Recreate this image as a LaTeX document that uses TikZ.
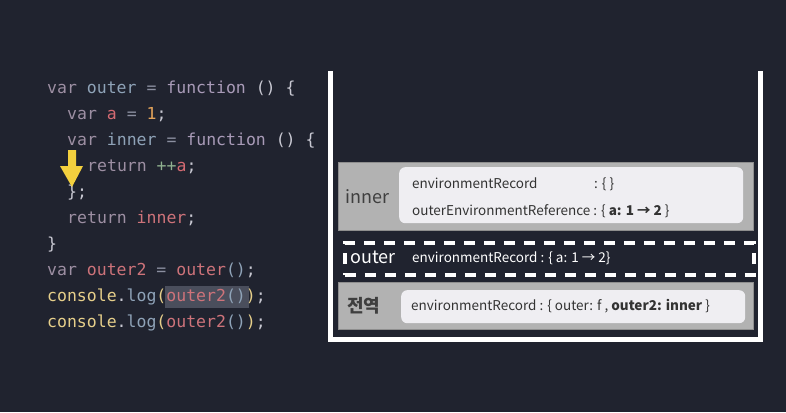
\documentclass[tikz,border=0pt]{standalone}
\usepackage{fontspec}
\setmonofont{DejaVu Sans Mono}
\newfontfamily\kr{Noto Sans CJK KR}
\definecolor{bg}{HTML}{20232F}
\definecolor{ckw}{HTML}{9D8FA3}
\definecolor{cid}{HTML}{8FA3B8}
\definecolor{cop}{HTML}{8B8FA0}
\definecolor{cfn}{HTML}{A99BB8}
\definecolor{cpn}{HTML}{C8C8D2}
\definecolor{cvar}{HTML}{D46A72}
\definecolor{cnum}{HTML}{E3A35A}
\definecolor{cinc}{HTML}{8FB08F}
\definecolor{cred}{HTML}{CE737A}
\definecolor{ccon}{HTML}{E6CF8A}
\definecolor{hl}{HTML}{4A4E5C}
\definecolor{frame}{HTML}{B2B2B2}
\definecolor{frameline}{HTML}{8E8E8E}
\definecolor{rec}{HTML}{EFEEF2}
\definecolor{txt}{HTML}{333333}
\definecolor{lbltxt}{HTML}{3F3F3F}
\definecolor{arrowy}{HTML}{F3D03E}
\tikzset{
  code/.style={anchor=base west, inner sep=0pt, font=\ttfamily\fontsize{16.5}{16.5}\selectfont, text=cpn},
  framebox/.style={fill=frame, draw=frameline, line width=1pt},
  recbox/.style={fill=rec, rounded corners=6pt},
  lbl/.style={anchor=base west, inner sep=0pt, font=\kr\fontsize{18}{18}\selectfont},
  rectxt/.style={anchor=base west, inner sep=0pt, font=\kr\fontsize{13.5}{13.5}\selectfont, text=txt},
}
\begin{document}
\begin{tikzpicture}[x=1pt,y=-1pt]
\fill[bg] (0,0) rectangle (786,412);
\useasboundingbox (0,0) rectangle (786,412);
% highlight
\fill[hl] (165,286) rectangle (249,308);
% code
\node[code] (l1) at (47,93) {\textcolor{ckw}{var} \textcolor{cid}{outer} \textcolor{cop}{=} \textcolor{cfn}{function} () \{};
\node[code] (l2) at (67,119) {\textcolor{ckw}{var} \textcolor{cvar}{a} \textcolor{cop}{=} \textcolor{cnum}{1};};
\node[code] (l3) at (67,145) {\textcolor{ckw}{var} \textcolor{cid}{inner} \textcolor{cop}{=} \textcolor{cfn}{function} () \{};
\node[code] (l4) at (87,171) {\textcolor{ckw}{return} \textcolor{cinc}{++}\textcolor{cvar}{a};};
\node[code] (l5) at (67,197) {\};};
\node[code] (l6) at (67,223) {\textcolor{ckw}{return} \textcolor{cred}{inner};};
\node[code] (l7) at (47,249) {\}};
\node[code] (l8) at (47,275) {\textcolor{ckw}{var} \textcolor{cred}{outer2} \textcolor{cop}{=} \textcolor{cred}{outer}\textcolor{cid}{()};};
\node[code] (l9) at (47,301) {\textcolor{ccon}{console}.\textcolor{cid}{log}\textcolor{ccon}{(}\textcolor{cred}{outer2}\textcolor{cid}{()}\textcolor{ccon}{)};};
\node[code] (l10) at (47,327) {\textcolor{ccon}{console}.\textcolor{cid}{log}\textcolor{ccon}{(}\textcolor{cred}{outer2}\textcolor{cid}{()}\textcolor{ccon}{)};};
% yellow arrow
\fill[arrowy] (68,150) -- (76,150) -- (76,166) -- (83,166) -- (72,187) -- (60,166) -- (68,166) -- cycle;
% stack container
\draw[white, line width=5pt] (330.5,71) -- (330.5,339.5) -- (760,339.5) -- (760,71);
% inner frame
\node[framebox, minimum width=415pt, minimum height=68pt, inner sep=0pt, anchor=north west] (innerf) at (338,162) {};
\node[recbox, minimum width=344pt, minimum height=56pt, inner sep=0pt, anchor=north west] (innerr) at (399,167) {};
\node[lbl, text=lbltxt] (innerl) at (345,203) {inner};
\node[rectxt] (ir1) at (412,188) {environmentRecord};
\node[rectxt] (ir1v) at (594,188) {: \{ \}};
\node[rectxt] (ir2) at (412,215) {outerEnvironmentReference : \{ \textbf{a: 1 → 2} \}};
% outer frame (dashed)
\node[draw=white, dash pattern=on 11pt off 9pt, line width=3.5pt, minimum width=409pt, minimum height=32pt, inner sep=0pt, anchor=north west] (outerf) at (343,241) {};
\node[lbl, text=white] (outerl) at (350,263) {outer};
\node[rectxt, text=white] (or1) at (412,262) {environmentRecord : \{ a: 1 → 2\}};
% global frame
\node[framebox, minimum width=415pt, minimum height=47pt, inner sep=0pt, anchor=north west] (globf) at (338,282) {};
\node[recbox, minimum width=344pt, minimum height=33pt, inner sep=0pt, anchor=north west] (globr) at (401,290) {};
\node[lbl, text=lbltxt, font=\kr\bfseries\fontsize{18}{18}\selectfont] (globl) at (347,312) {전역};
\node[rectxt] (gr1) at (411,310) {environmentRecord : \{ outer: f , \textbf{outer2: inner} \}};
\end{tikzpicture}
\end{document}
